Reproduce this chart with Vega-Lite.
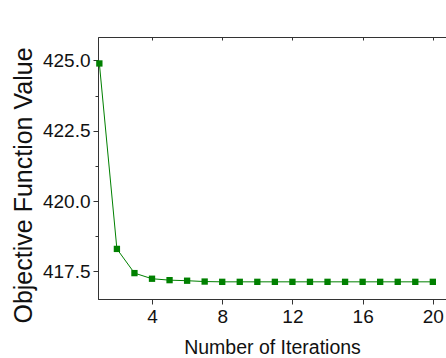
{
  "$schema": "https://vega.github.io/schema/vega-lite/v6.json",
  "autosize": {"type": "none"},
  "width": 348,
  "height": 262,
  "padding": {"left": 98, "top": 37, "right": 0, "bottom": 59},
  "background": "white",
  "config": {
    "view": {"stroke": "#333", "strokeWidth": 1},
    "font": "Liberation Sans",
    "axis": {
      "domainColor": "#333",
      "tickColor": "#333",
      "labelColor": "#111",
      "titleColor": "#111",
      "labelFont": "Liberation Sans",
      "titleFont": "Liberation Sans",
      "titleFontWeight": "normal",
      "grid": false
    }
  },
  "data": {
    "values": [
      {"iter": 1, "value": 424.89},
      {"iter": 2, "value": 418.30},
      {"iter": 3, "value": 417.44},
      {"iter": 4, "value": 417.24},
      {"iter": 5, "value": 417.19},
      {"iter": 6, "value": 417.17},
      {"iter": 7, "value": 417.14},
      {"iter": 8, "value": 417.13},
      {"iter": 9, "value": 417.13},
      {"iter": 10, "value": 417.13},
      {"iter": 11, "value": 417.13},
      {"iter": 12, "value": 417.13},
      {"iter": 13, "value": 417.13},
      {"iter": 14, "value": 417.13},
      {"iter": 15, "value": 417.13},
      {"iter": 16, "value": 417.13},
      {"iter": 17, "value": 417.13},
      {"iter": 18, "value": 417.13},
      {"iter": 19, "value": 417.13},
      {"iter": 20, "value": 417.13}
    ]
  },
  "layer": [
    {
      "mark": {"type": "line", "color": "#008000", "strokeWidth": 1},
      "encoding": {
        "x": {
          "field": "iter",
          "type": "quantitative",
          "scale": {"domain": [0.923, 20.75], "nice": false, "zero": false},
          "axis": {
            "orient": "bottom",
            "title": "Number of Iterations",
            "values": [4, 8, 12, 16, 20],
            "tickSize": 5,
            "labelFontSize": 19,
            "labelPadding": 3,
            "titleFontSize": 19.5,
            "titlePadding": 12
          }
        },
        "y": {
          "field": "value",
          "type": "quantitative",
          "scale": {"domain": [416.52, 425.83], "nice": false, "zero": false},
          "axis": {
            "orient": "left",
            "title": "Objective Function Value",
            "values": [417.5, 418.75, 420, 421.25, 422.5, 423.75, 425],
            "labelExpr": "abs((datum.value * 2) % 5) < 0.01 ? format(datum.value, '.1f') : ''",
            "tickSize": {"condition": {"test": "abs((datum.value * 2) % 5) < 0.01", "value": 5}, "value": 3},
            "labelFontSize": 19,
            "labelPadding": 3,
            "titleFontSize": 25,
            "titlePadding": 6,
            "titleY": 148
          }
        }
      }
    },
    {
      "mark": {"type": "point", "shape": "square", "filled": true, "color": "#008000", "size": 40, "opacity": 1},
      "encoding": {
        "x": {
          "field": "iter",
          "type": "quantitative",
          "axis": {
            "orient": "top",
            "title": null,
            "values": [4, 8, 12, 16, 20],
            "labels": false,
            "tickSize": -3,
            "domain": false
          }
        },
        "y": {"field": "value", "type": "quantitative"}
      }
    }
  ],
  "resolve": {"axis": {"x": "independent"}}
}
